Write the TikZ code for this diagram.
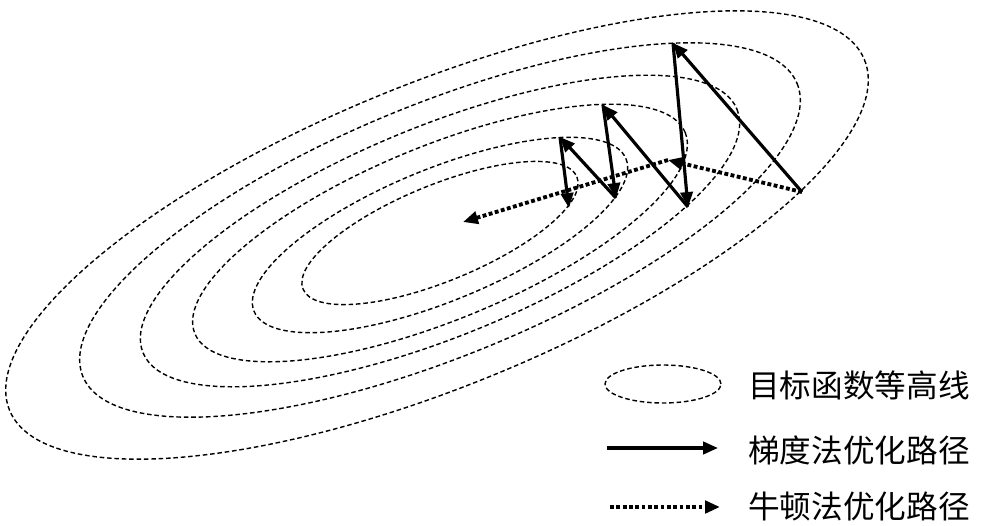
\documentclass[tikz,border=0pt]{standalone}
\usepackage{fontspec}
\newfontfamily\cjk{Noto Sans CJK SC}
\usetikzlibrary{arrows.meta,shapes.geometric}

\begin{document}
\begin{tikzpicture}[
    x=0.02cm, y=-0.02cm,
    contour/.style={
        line width=0.8pt,
        dash pattern=on 2.6pt off 1.6pt
    },
    gradarrow/.style={-{Triangle[length=8.5pt,width=7pt]}, line width=1.8pt},
    newtonarrow/.style={
        -{Triangle[length=8.5pt,width=7pt]},
        line width=2.2pt,
        dash pattern=on 2.2pt off 1.4pt
    },
    legendtext/.style={
        anchor=west,
        inner sep=0pt,
        font=\cjk\fontsize{18pt}{20pt}\selectfont
    }
]
\useasboundingbox (0,0) rectangle (985,525);

% Contour lines of the objective
\draw[contour] (440,233) ellipse [x radius=148, y radius=48, rotate=22.3];
\draw[contour] (440,235) ellipse [x radius=201, y radius=66, rotate=22.3];
\draw[contour] (440,233) ellipse [x radius=265, y radius=87, rotate=22.3];
\draw[contour] (440,231) ellipse [x radius=321, y radius=105, rotate=22.3];
\draw[contour] (440,230) ellipse [x radius=386, y radius=126, rotate=22.3];
\draw[contour] (437,235) ellipse [x radius=462, y radius=151, rotate=22.3];

% Path points
\coordinate (g0) at (802,192);
\coordinate (g1) at (673,43);
\coordinate (g2) at (688,207);
\coordinate (g3) at (603,105);
\coordinate (g4) at (616,198);
\coordinate (g5) at (560,137);
\coordinate (g6) at (569,208);
\coordinate (n1) at (668,160);
\coordinate (n2) at (463,222);

% Gradient steps
\draw[gradarrow] (g0) -- (g1);
\draw[gradarrow] (g1) -- (g2);
\draw[gradarrow] (g2) -- (g3);
\draw[gradarrow] (g3) -- (g4);
\draw[gradarrow] (g4) -- (g5);
\draw[gradarrow] (g5) -- (g6);

% Newton steps
\draw[newtonarrow] (g0) -- (n1);
\draw[newtonarrow] (n1) -- (n2);

% Legend
\node[draw, ellipse, contour, minimum width=2.32cm, minimum height=0.76cm] (legcontour) at (663,384) {};
\coordinate (leggs) at (607,448);
\coordinate (legge) at (718,448);
\coordinate (legns) at (610,507);
\coordinate (legne) at (720,507);
\draw[gradarrow] (leggs) -- (legge);
\draw[newtonarrow] (legns) -- (legne);

\node[legendtext] (txtcontour) at (748,385) {目标函数等高线};
\node[legendtext] (txtgrad) at (748,450) {梯度法优化路径};
\node[legendtext] (txtnewton) at (748,506) {牛顿法优化路径};

\end{tikzpicture}
\end{document}
